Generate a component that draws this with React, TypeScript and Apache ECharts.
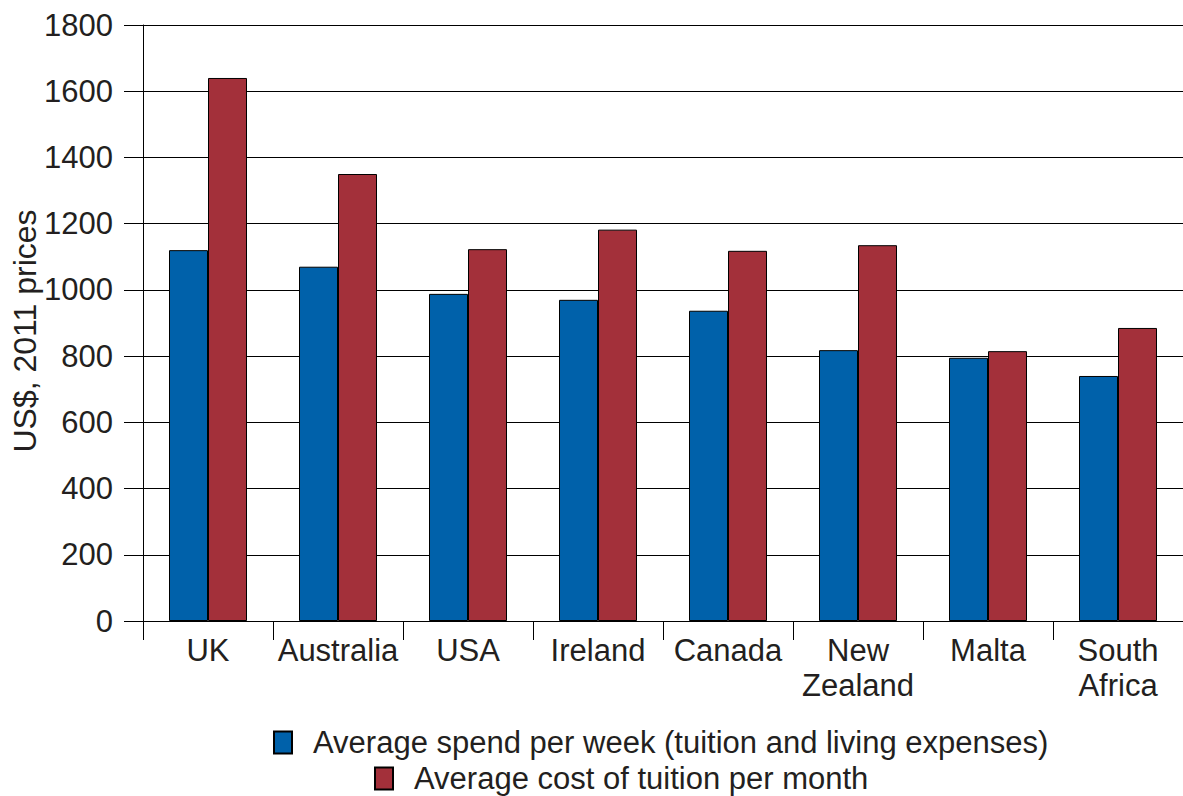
import React, { useEffect, useRef } from "react";
import * as echarts from "echarts";

const categories = ["UK", "Australia", "USA", "Ireland", "Canada", "New\nZealand", "Malta", "South\nAfrica"];
const spendPerWeek = [1120, 1070, 988, 970, 937, 818, 795, 740];
const tuitionPerMonth = [1640, 1350, 1123, 1182, 1118, 1135, 815, 885];
const seriesNames = [
  "Average spend per week (tuition and living expenses)",
  "Average cost of tuition per month",
];
const yAxisTitle = "US$, 2011 prices";
const yTicks = { min: 0, max: 1800, interval: 200 };

const FONT = "Liberation Sans";
const TXT = "#231f20";
const FS = 31;

export default function App() {
  const ref = useRef<HTMLDivElement>(null);
  useEffect(() => {
    document.body.style.margin = "0";
    const chart = echarts.init(ref.current!, null, { renderer: "svg" });
    chart.setOption({
      animation: false,
      backgroundColor: "#ffffff",
      textStyle: { fontFamily: FONT, color: TXT },
      grid: { left: 143, right: 0, top: 25, bottom: 175, containLabel: false, outerBoundsMode: "none" },
      graphic: [
        {
          type: "text",
          x: 25,
          y: 331,
          rotation: Math.PI / 2,
          style: {
            text: yAxisTitle,
            fontFamily: FONT,
            fontSize: 32,
            fill: TXT,
            align: "center",
            verticalAlign: "middle",
          },
        },
      ],
      legend: [
        {
          data: [seriesNames[0]],
          left: 273,
          top: 727,
          itemWidth: 18,
          itemHeight: 22,
          icon: "rect",
          padding: 0,
          textStyle: { fontFamily: FONT, fontSize: FS, color: TXT, padding: [0, 0, 0, 16] },
        },
        {
          data: [seriesNames[1]],
          left: 374,
          top: 763,
          itemWidth: 18,
          itemHeight: 22,
          icon: "rect",
          padding: 0,
          textStyle: { fontFamily: FONT, fontSize: FS, color: TXT, padding: [0, 0, 0, 16] },
        },
      ],
      xAxis: {
        type: "category",
        data: categories,
        axisLine: { show: true, lineStyle: { color: "#000", width: 1 } },
        axisTick: { show: true, length: 19, lineStyle: { color: "#000", width: 1 } },
        axisLabel: { fontFamily: FONT, fontSize: FS, color: TXT, margin: 12, lineHeight: 35, interval: 0 },
      },
      yAxis: {
        type: "value",
        min: yTicks.min,
        max: yTicks.max,
        interval: yTicks.interval,
        axisLine: { show: true, lineStyle: { color: "#000", width: 1 } },
        axisTick: { show: true, length: 19, lineStyle: { color: "#000", width: 1 } },
        splitLine: { show: true, lineStyle: { color: "#000", width: 1 } },
        axisLabel: { fontFamily: FONT, fontSize: FS, color: TXT, margin: 30, formatter: (v: number) => String(v) },
      },
      series: [
        {
          name: seriesNames[0],
          type: "bar",
          data: spendPerWeek,
          barGap: "0%",
          barCategoryGap: "40%",
          itemStyle: { color: "#0061aa", borderColor: "#000", borderWidth: 1 },
        },
        {
          name: seriesNames[1],
          type: "bar",
          data: tuitionPerMonth,
          barGap: "0%",
          barCategoryGap: "40%",
          itemStyle: { color: "#a3303a", borderColor: "#000", borderWidth: 1 },
        },
      ],
    });
    return () => chart.dispose();
  }, []);
  return <div ref={ref} style={{ width: 1183, height: 796 }} />;
}
